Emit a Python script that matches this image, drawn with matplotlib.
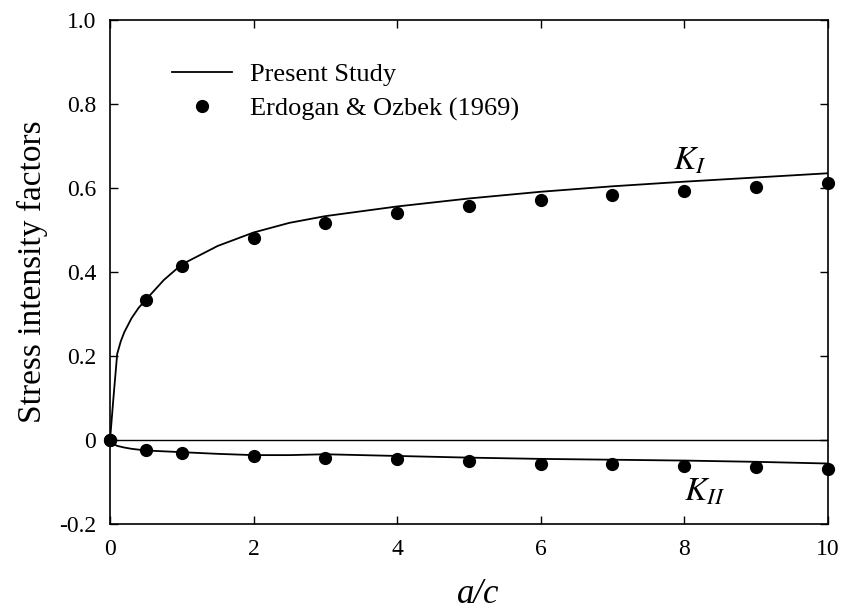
import matplotlib
matplotlib.use("Agg")
import matplotlib.pyplot as plt

plt.rcParams['font.family'] = ['Liberation Serif', 'DejaVu Serif']
plt.rcParams['mathtext.fontset'] = 'stix'

# Present study: continuous curves
x_line = [0, 0.05, 0.1, 0.15, 0.2, 0.3, 0.4, 0.5, 0.75, 1, 1.5, 2, 2.5, 3, 4, 5, 6, 7, 8, 9, 10]
k1_line = [0, 0.105, 0.205, 0.235, 0.257, 0.290, 0.315, 0.334, 0.381, 0.418, 0.462, 0.494,
           0.517, 0.533, 0.556, 0.575, 0.591, 0.604, 0.615, 0.625, 0.635]
k2_line = [0, -0.010, -0.014, -0.016, -0.018, -0.021, -0.023, -0.025, -0.027, -0.029, -0.033,
           -0.036, -0.036, -0.034, -0.038, -0.042, -0.045, -0.047, -0.049, -0.052, -0.056]

# Erdogan & Ozbek (1969) reference values
x_pts = [0, 0.5, 1, 2, 3, 4, 5, 6, 7, 8, 9, 10]
k1_pts = [0, 0.333, 0.415, 0.482, 0.517, 0.540, 0.557, 0.571, 0.583, 0.594, 0.603, 0.611]
k2_pts = [0, -0.025, -0.032, -0.038, -0.042, -0.045, -0.050, -0.056, -0.056, -0.061, -0.064, -0.070]

xticks = [0, 2, 4, 6, 8, 10]
yticks = [-0.2, 0, 0.2, 0.4, 0.6, 0.8, 1.0]
ytick_labels = ['-0.2', '0', '0.2', '0.4', '0.6', '0.8', '1.0']

fig = plt.figure(figsize=(8.45, 6.13), dpi=100)
ax = fig.add_axes([0.1302, 0.1452, 0.8493, 0.8222])

ax.axhline(0, color='black', lw=1.0, zorder=1)
ln, = ax.plot(x_line, k1_line, color='black', lw=1.3, zorder=2)
ax.plot(x_line, k2_line, color='black', lw=1.3, zorder=2)
pts, = ax.plot(x_pts, k1_pts, 'o', color='black', ms=8.5, zorder=3, clip_on=False)
ax.plot(x_pts, k2_pts, 'o', color='black', ms=8.5, zorder=3, clip_on=False)

ax.set_xlim(0, 10)
ax.set_ylim(-0.2, 1.0)
ax.set_xticks(xticks)
ax.set_xticklabels([str(t) for t in xticks])
ax.set_yticks(yticks)
ax.set_yticklabels(ytick_labels)
ax.tick_params(direction='in', top=True, right=True, length=6, width=1,
               labelsize=17)
ax.tick_params(axis='x', pad=11)
ax.tick_params(axis='y', pad=10)
for s in ax.spines.values():
    s.set_linewidth(1.2)

ax.set_ylabel('Stress intensity factors', fontsize=24, labelpad=8)
ax.set_xlabel('a/c', fontsize=25, fontstyle='italic')
ax.xaxis.set_label_coords(0.513, -0.157)
ax.xaxis.label.set_verticalalignment('baseline')

ax.text(7.85, 0.645, r'$K_I$', fontsize=24)
ax.text(8.0, -0.145, r'$K_{II}$', fontsize=24)

ax.legend([ln, pts], ['Present Study', 'Erdogan & Ozbek (1969)'],
          loc='upper left', bbox_to_anchor=(0.053, 0.962), frameon=False,
          fontsize=19, handlelength=2.3, handletextpad=0.65, labelspacing=0.4,
          numpoints=1)

fig.savefig('out.png', dpi=100)
